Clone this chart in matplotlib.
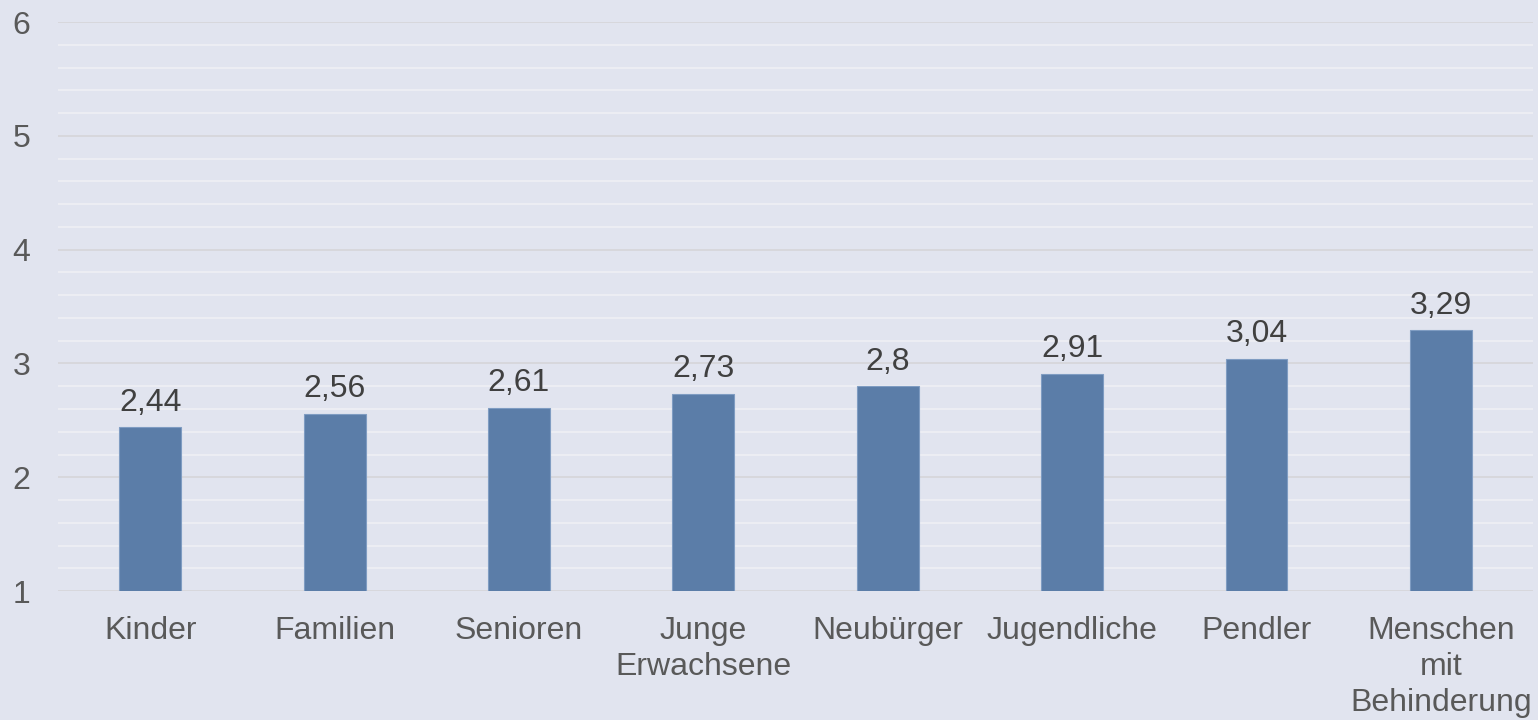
import numpy as np
import matplotlib.pyplot as plt
from matplotlib.ticker import MultipleLocator

plt.rcParams['font.family'] = ['Liberation Sans', 'DejaVu Sans']

# Daten
categories = ['Kinder', 'Familien', 'Senioren', 'Junge\nErwachsene', 'Neubürger',
              'Jugendliche', 'Pendler', 'Menschen\nmit\nBehinderung']
values = [2.44, 2.56, 2.61, 2.73, 2.80, 2.91, 3.04, 3.29]
value_labels = ['2,44', '2,56', '2,61', '2,73', '2,8', '2,91', '3,04', '3,29']

bg = '#E1E4EF'
fig = plt.figure(figsize=(15.38, 7.2), dpi=100, facecolor=bg)
ax = fig.add_axes([0.0377, 0.179, 0.9591, 0.7904], facecolor=bg)

x = np.arange(len(categories))
bars = ax.bar(x, values, width=0.336, bottom=0, color='#5B7DA8',
              edgecolor='#7F9CC2', linewidth=0.8, zorder=3)

ax.set_xlim(-0.5, len(categories) - 0.5)
ax.set_ylim(1, 6)
ax.yaxis.set_major_locator(MultipleLocator(1))
ax.yaxis.set_minor_locator(MultipleLocator(0.2))
ax.grid(axis='y', which='major', color='#D6D6DA', linewidth=1.3, zorder=0)
ax.grid(axis='y', which='minor', color='#EEEFF4', linewidth=1.3, zorder=0)
ax.grid(axis='x', visible=False)

for s in ax.spines.values():
    s.set_visible(False)

ax.set_xticks(x)
ax.set_xticklabels(categories, linespacing=1.25)
ax.tick_params(axis='both', which='both', length=0, labelsize=23, labelcolor='#595959')
ax.tick_params(axis='x', pad=18)
ax.tick_params(axis='y', pad=20)

for xi, v, t in zip(x, values, value_labels):
    ax.annotate(t, (xi, v), xytext=(0, 7), textcoords='offset points',
                ha='center', va='bottom', fontsize=23, color='#404040')

fig.savefig('out.png', dpi=100, facecolor=bg)
